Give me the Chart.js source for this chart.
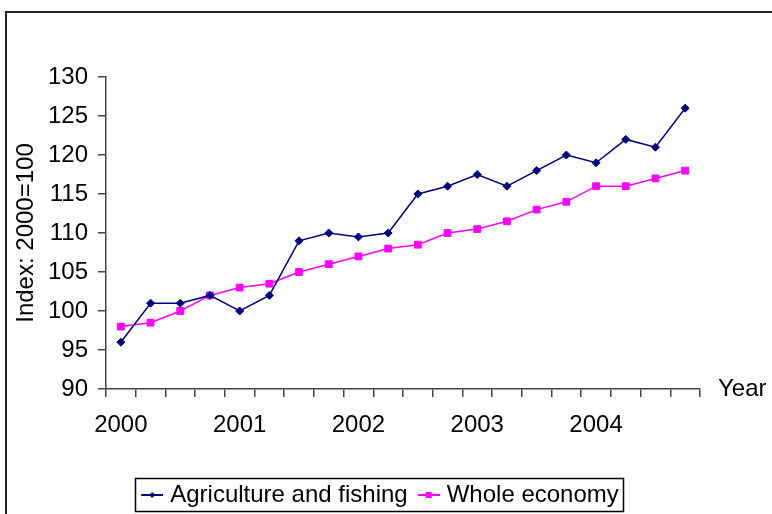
<!DOCTYPE html>
<html><head><meta charset="utf-8">
<script src="https://cdn.jsdelivr.net/npm/chart.js@4/dist/chart.umd.min.js"></script>
<style>html,body{margin:0;padding:0;background:#fff}#wrap{width:772px;height:514px}</style>
</head><body><div id="wrap"><canvas id="c" width="772" height="514"></canvas></div>
<script>
const quarters = ['2000 Q1','2000 Q2','2000 Q3','2000 Q4','2001 Q1','2001 Q2','2001 Q3','2001 Q4',
  '2002 Q1','2002 Q2','2002 Q3','2002 Q4','2003 Q1','2003 Q2','2003 Q3','2003 Q4',
  '2004 Q1','2004 Q2','2004 Q3','2004 Q4'];
const yearLabels = ['2000','2001','2002','2003','2004'];
const agriculture = [96,101,101,102,100,102,109,110,109.5,110,115,116,117.5,116,118,120,119,122,121,126];
const wholeEconomy = [98,98.5,100,102,103,103.5,105,106,107,108,108.5,110,110.5,111.5,113,114,116,116,117,118];
const seriesNames = ['Agriculture and fishing','Whole economy'];
const yAxisTitle = 'Index: 2000=100';
const xAxisTitle = 'Year';

const FONT = "'Liberation Sans', Arial, sans-serif";
const FS = 24;
const NAVY = '#000080', MAGENTA = '#FF00FF';

function legendIcon(color, shape) {
  const c = document.createElement('canvas');
  c.width = 27; c.height = 12;
  const g = c.getContext('2d');
  g.strokeStyle = color; g.lineWidth = 2;
  g.beginPath(); g.moveTo(5, 6); g.lineTo(27, 6); g.stroke();
  g.fillStyle = color;
  if (shape === 'diamond') {
    g.beginPath(); g.moveTo(16, 3); g.lineTo(19, 6); g.lineTo(16, 9); g.lineTo(13, 6); g.closePath(); g.fill();
  } else {
    g.fillRect(13, 3, 6, 6);
  }
  return c;
}
const icons = [legendIcon(NAVY, 'diamond'), legendIcon(MAGENTA, 'square')];

const decor = {
  id: 'decor',
  afterDraw(chart) {
    const ctx = chart.ctx;
    ctx.save();
    ctx.strokeStyle = '#222'; ctx.lineWidth = 2;
    ctx.strokeRect(6, 12, 900, 700);
    ctx.fillStyle = '#000';
    ctx.font = FS + 'px ' + FONT;
    ctx.textBaseline = 'alphabetic'; ctx.textAlign = 'left';
    ctx.fillText(xAxisTitle, chart.chartArea.right + 18, chart.chartArea.bottom + 7);
    const hb = chart.legend.legendHitBoxes;
    if (hb && hb.length) {
      const l = hb[0].left - 6;
      const last = hb[hb.length - 1];
      const r = last.left + last.width + 4;
      const t = hb[0].top - 5, b = hb[0].top + hb[0].height + 4;
      ctx.strokeStyle = '#000'; ctx.lineWidth = 1.5;
      ctx.strokeRect(Math.round(l) + 0.5, Math.round(t) + 0.5, Math.round(r - l), Math.round(b - t));
    }
    ctx.restore();
  }
};

new Chart(document.getElementById('c'), {
  type: 'line',
  data: {
    labels: quarters,
    datasets: [
      { label: seriesNames[0], data: agriculture, borderColor: NAVY, backgroundColor: NAVY,
        borderWidth: 1.5, pointStyle: 'rectRot', pointRadius: 4, pointBorderWidth: 1, tension: 0 },
      { label: seriesNames[1], data: wholeEconomy, borderColor: MAGENTA, backgroundColor: MAGENTA,
        borderWidth: 1.5, pointStyle: 'rect', pointRadius: 4.8, pointBorderWidth: 1, tension: 0 }
    ]
  },
  options: {
    responsive: false,
    animation: false,
    events: [],
    layout: { padding: { left: 0, right: 12, top: 77, bottom: 0 } },
    plugins: {
      tooltip: { enabled: false },
      legend: {
        position: 'bottom',
        maxHeight: 41,
        labels: {
          usePointStyle: true,
          pointStyleWidth: 17,
          padding: 10,
          color: '#000',
          font: { family: FONT, size: FS },
          generateLabels(chart) {
            return chart.data.datasets.map((d, i) => ({
              text: d.label, pointStyle: icons[i], fillStyle: d.borderColor,
              strokeStyle: d.borderColor, lineWidth: 0, datasetIndex: i, hidden: false
            }));
          }
        }
      }
    },
    scales: {
      x: {
        type: 'category',
        offset: true,
        grid: { display: true, offset: true, drawOnChartArea: false, drawTicks: true, tickLength: 8, color: '#444', lineWidth: 1.5 },
        border: { display: true, color: '#444', width: 1.5 },
        ticks: {
          autoSkip: false, maxRotation: 0, minRotation: 0, padding: 14, color: '#000',
          font: { family: FONT, size: FS },
          callback: (v, i) => (i % 4 === 0 ? yearLabels[i / 4] : '')
        },
        afterFit(s) { s.height = 84; }
      },
      y: {
        position: 'left',
        min: 90, max: 130,
        grid: { display: true, drawOnChartArea: false, drawTicks: true, tickLength: 8, color: '#444', lineWidth: 1.5 },
        border: { display: true, color: '#444', width: 1.5 },
        ticks: { stepSize: 5, padding: 10, color: '#000', font: { family: FONT, size: FS } },
        title: { display: true, text: yAxisTitle, color: '#000', font: { family: FONT, size: FS }, padding: { top: 12, bottom: 0 } },
        afterFit(s) { s.width = 106; }
      },
      y2: {
        position: 'right',
        display: true,
        grid: { display: false, drawTicks: false },
        border: { display: false },
        ticks: { display: false },
        afterFit(s) { s.width = 60; }
      }
    }
  },
  plugins: [decor]
});
</script>
</body></html>
